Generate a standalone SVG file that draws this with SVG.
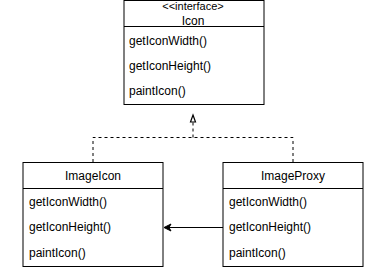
<svg xmlns="http://www.w3.org/2000/svg" width="384" height="270" viewBox="0 0 384 270">
  <style>
    .box { fill: #ffffff; stroke: #000000; stroke-width: 1; }
    .sep { stroke: #000000; stroke-width: 1; fill: none; }
    .title { font-family: "Liberation Sans", Arial, sans-serif; font-size: 12px; fill: #000000; text-anchor: middle; }
    .stereo { font-size: 11px; }
    .member { font-family: "Liberation Sans", Arial, sans-serif; font-size: 12px; fill: #000000; }
    .dash { fill: none; stroke: #000000; stroke-width: 1; stroke-dasharray: 3 3; }
    .solid { fill: none; stroke: #000000; stroke-width: 1; }
  </style>
  <rect width="384" height="270" fill="#ffffff"/>

  <!-- interface Icon -->
  <g id="icon">
    <rect class="box" x="124" y="0.5" width="140" height="104"/>
    <line class="sep" x1="124" y1="26.5" x2="264" y2="26.5"/>
    <text class="title stereo" x="193" y="10">&lt;&lt;interface&gt;</text>
    <text class="title" x="193" y="25">Icon</text>
    <text class="member" x="129" y="45">getIconWidth()</text>
    <text class="member" x="129" y="70">getIconHeight()</text>
    <text class="member" x="129" y="95">paintIcon()</text>
  </g>

  <!-- class ImageIcon -->
  <g id="imageicon">
    <rect class="box" x="23" y="162.5" width="140" height="104"/>
    <line class="sep" x1="23" y1="188.5" x2="163" y2="188.5"/>
    <text class="title" x="93" y="180">ImageIcon</text>
    <text class="member" x="29" y="206">getIconWidth()</text>
    <text class="member" x="29" y="231">getIconHeight()</text>
    <text class="member" x="29" y="257">paintIcon()</text>
  </g>

  <!-- class ImageProxy -->
  <g id="imageproxy">
    <rect class="box" x="223" y="162.5" width="140" height="104"/>
    <line class="sep" x1="223" y1="188.5" x2="363" y2="188.5"/>
    <text class="title" x="293" y="180">ImageProxy</text>
    <text class="member" x="229" y="206">getIconWidth()</text>
    <text class="member" x="229" y="231">getIconHeight()</text>
    <text class="member" x="229" y="257">paintIcon()</text>
  </g>

  <!-- connectors -->
  <g id="connectors">
    <!-- realization: both classes implement Icon -->
    <path class="dash" d="M93 162 V137.5 H293 V162"/>
    <path class="dash" d="M193 137.5 V122"/>
    <path d="M193 115 L195.5 122 L190.5 122 Z" fill="#ffffff" stroke="#000000" stroke-width="1.2"/>
    <!-- delegation: ImageProxy to ImageIcon -->
    <path class="solid" d="M223 227.5 H168"/>
    <path d="M164 227.5 L171 224 L169 227.5 L171 231 Z" fill="#000000" stroke="#000000" stroke-width="1"/>
  </g>
</svg>
